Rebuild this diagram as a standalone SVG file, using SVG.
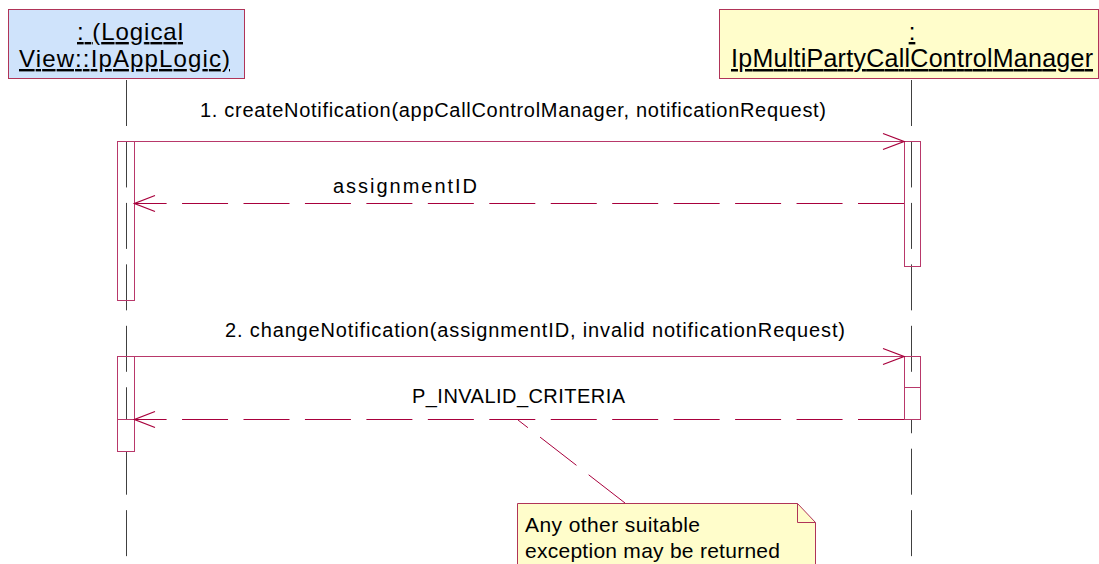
<svg xmlns="http://www.w3.org/2000/svg" width="1099" height="564" viewBox="0 0 1099 564">
<style>
text{font-family:"Liberation Sans",Arial,sans-serif;fill:#000}
.hdr{font-size:24px;text-decoration:underline}
.lbl{font-size:20px}
.note{font-size:21px}
.life{stroke:#404040;stroke-width:1;stroke-dasharray:46 15.45;fill:none}
.act{stroke:#b8386a;stroke-width:1;fill:none}
.actw{stroke:#b8386a;stroke-width:1;fill:#fff}
.msg{stroke:#b8386a;stroke-width:1;fill:none}
.ret{stroke:#a8003c;stroke-width:1;fill:none;stroke-dasharray:46 15.45}
.head{stroke:#a8003c;stroke-width:1.3;fill:none}
</style>
<rect width="1099" height="564" fill="#fff"/>
<g id="lifelines">
<line class="life" x1="126.5" y1="80" x2="126.5" y2="564"/>
<line class="life" x1="911.5" y1="80" x2="911.5" y2="564"/>
</g>
<g id="node-applogic">
<rect x="8.5" y="9.5" width="236" height="69" fill="#cfe3fb" stroke="#b03458" stroke-width="1"/>
<text class="hdr" x="77" y="40" textLength="106" lengthAdjust="spacing">: (Logical</text>
<text class="hdr" x="19" y="67" textLength="211" lengthAdjust="spacing">View::IpAppLogic)</text>
</g>
<g id="node-manager">
<rect x="719.5" y="9.5" width="379" height="69" fill="#fffdcb" stroke="#b03458" stroke-width="1"/>
<text class="hdr" x="912" y="40" text-anchor="middle">:</text>
<text class="hdr" x="731" y="67" textLength="362" lengthAdjust="spacing" style="font-size:25px">IpMultiPartyCallControlManager</text>
</g>
<g id="activations">
<rect class="act" x="117.5" y="141.5" width="17" height="159"/>
<rect class="act" x="904.5" y="141.5" width="16" height="125"/>
<rect class="act" x="117.5" y="356.5" width="17" height="63"/>
<rect class="actw" x="117.5" y="419.5" width="17" height="32"/>
<rect class="act" x="904.5" y="356.5" width="16" height="31"/>
<rect class="actw" x="904.5" y="387.5" width="16" height="32"/>
</g>
<g id="connectors">
<line class="msg" x1="134.5" y1="141.5" x2="904" y2="141.5"/>
<polyline class="head" points="883,133.5 904,141.5 883,149.5"/>
<line class="ret" x1="904" y1="203.5" x2="134.5" y2="203.5"/>
<polyline class="head" points="155,195.5 134.5,203.5 155,211.5"/>
<line class="msg" x1="134.5" y1="356.5" x2="904" y2="356.5"/>
<polyline class="head" points="883,348.5 904,356.5 883,364.5"/>
<line class="ret" x1="904" y1="419.5" x2="134.5" y2="419.5"/>
<polyline class="head" points="155,411.5 134.5,419.5 155,427.5"/>
<line class="ret" x1="625" y1="503" x2="518" y2="420" stroke-width="0.9"/>
</g>
<g id="labels">
<text class="lbl" x="200" y="117" textLength="626" lengthAdjust="spacing">1. createNotification(appCallControlManager, notificationRequest)</text>
<text class="lbl" x="333" y="193" textLength="144" lengthAdjust="spacing">assignmentID</text>
<text class="lbl" x="225" y="337" textLength="620" lengthAdjust="spacing">2. changeNotification(assignmentID, invalid notificationRequest)</text>
<text class="lbl" x="412" y="403" textLength="213" lengthAdjust="spacing">P_INVALID_CRITERIA</text>
</g>
<g id="node-note">
<path d="M517.5,570 L517.5,503.5 L797.5,503.5 L815.5,522.5 L815.5,570" fill="#fffdcb" stroke="#b03458" stroke-width="1"/>
<path d="M797.5,503.5 L797.5,522.5 L815.5,522.5" fill="none" stroke="#b03458" stroke-width="1"/>
<text class="note" x="525" y="532" textLength="175" lengthAdjust="spacing">Any other suitable</text>
<text class="note" x="525" y="558" textLength="255" lengthAdjust="spacing">exception may be returned</text>
</g>
</svg>
